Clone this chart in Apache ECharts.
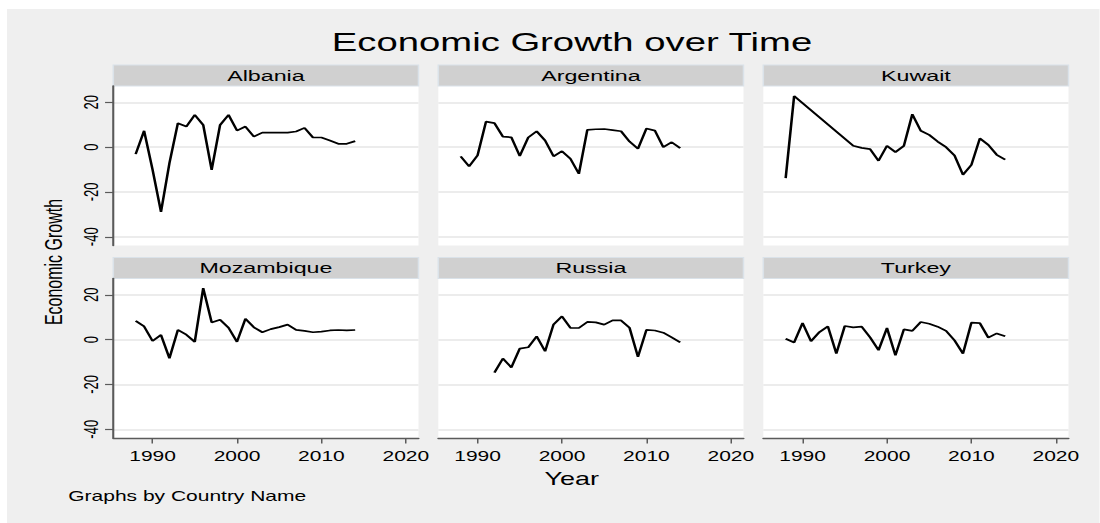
<!DOCTYPE html>
<html>
<head>
<meta charset="utf-8">
<script src="https://cdn.jsdelivr.net/npm/echarts@6/dist/echarts.min.js"></script>
<style>
  html, body { margin: 0; padding: 0; background: #ffffff; overflow: hidden; }
  /* the panel layout is laid out on a narrower canvas and widened 1.5x */
  #chart { width: 733.333px; height: 523px; transform: scaleX(1.5); transform-origin: 0 0; }
</style>
</head>
<body>
<div id="chart"></div>
<script>
// ---- data: annual GDP growth (%) by country ----
const years = [1988, 1989, 1990, 1991, 1992, 1993, 1994, 1995, 1996, 1997, 1998, 1999, 2000,
  2001, 2002, 2003, 2004, 2005, 2006, 2007, 2008, 2009, 2010, 2011, 2012, 2013, 2014];

const countries = ['Albania', 'Argentina', 'Kuwait', 'Mozambique', 'Russia', 'Turkey'];

const albania = [-3.1, 7.3, -10.0, -28.9, -7.1, 10.7, 9.2, 14.4, 9.9, -10.1, 9.9, 14.4, 7.4,
  9.2, 4.7, 6.5, 6.5, 6.5, 6.5, 7.0, 8.6, 4.3, 4.3, 3.0, 1.5, 1.5, 2.7];
const argentina = [-4.1, -8.6, -3.7, 11.4, 10.7, 4.7, 4.4, -3.9, 4.3, 7.1, 3.0, -4.1, -1.8,
  -5.2, -11.9, 7.7, 8.0, 8.1, 7.6, 7.1, 2.5, -0.7, 8.3, 7.4, 0.0, 2.2, -0.4];
const kuwait = [-13.8, 22.8, null, null, null, null, null, null, 0.6, -0.3, -0.9, -6.1, 0.6,
  -2.2, 0.6, 14.7, 7.3, 5.5, 2.5, 0.0, -3.7, -12.3, -7.9, 3.9, 1.0, -3.4, -5.6];
const mozambique = [8.4, 5.9, -0.6, 2.1, -8.3, 4.4, 2.2, -1.0, 23.0, 7.7, 8.9, 5.3, -1.0,
  9.3, 5.5, 3.3, 4.7, 5.6, 6.7, 4.4, 3.9, 3.3, 3.6, 4.1, 4.3, 4.1, 4.3];
const russia = [null, null, null, null, -14.7, -8.4, -12.4, -4.0, -3.4, 1.5, -5.2, 6.8, 10.4,
  5.3, 5.2, 7.9, 7.7, 6.7, 8.6, 8.6, 5.3, -7.7, 4.4, 4.1, 3.1, 1.0, -1.2];
const turkey = [0.4, -1.3, 7.4, -0.7, 3.4, 5.9, -6.2, 6.1, 5.5, 5.8, 1.0, -4.7, 5.2,
  -7.0, 4.6, 3.9, 7.9, 7.1, 5.8, 3.9, -0.3, -6.2, 7.6, 7.4, 0.9, 2.8, 1.5];

const growth = [albania, argentina, kuwait, mozambique, russia, turkey];

const xTicks = [1990, 2000, 2010, 2020];
const yTicks = [-40, -20, 0, 20];

// ---- layout ----
const SX = 1.5;                       // horizontal widening of the drawing
const X_MIN = 1985.35, X_MAX = 2021.5;
const Y_MIN = -43.9, Y_MAX = 27.3;
const colLeft = [113.3, 438.3, 763.3].map(v => v / SX);
const colWidth = 305.2 / SX;
const rowTop = [86, 278.5];
const rowHeight = 159.5;
const headerHeight = 21;
const FONT = '"Liberation Sans", Arial, Helvetica, sans-serif';
const AXIS_COLOR = '#5a5a5a';

const grids = [], xAxes = [], yAxes = [], series = [], graphics = [];

// graph region background
graphics.push({
  type: 'rect', z: -10, silent: true,
  shape: { x: 7 / SX, y: 9, width: 733.333 - 7 / SX, height: 514 },
  style: { fill: '#efefef' }
});

countries.forEach((name, i) => {
  const row = Math.floor(i / 3), col = i % 3;
  grids.push({
    left: colLeft[col], top: rowTop[row], width: colWidth, height: rowHeight,
    show: true, backgroundColor: '#ffffff', borderWidth: 0,
    containLabel: false, outerBoundsMode: 'none'
  });
  const bottomRow = row === 1, leftCol = col === 0;
  xAxes.push({
    type: 'value', gridIndex: i, min: X_MIN, max: X_MAX,
    axisLine: { show: bottomRow, onZero: false, lineStyle: { color: AXIS_COLOR, width: 1.4 } },
    axisTick: { show: bottomRow, customValues: xTicks, length: 5.5, lineStyle: { color: AXIS_COLOR, width: 1 } },
    axisLabel: { show: bottomRow, customValues: xTicks, margin: 11, fontSize: 14, color: '#000', fontFamily: FONT,
      formatter: v => String(v) },
    splitLine: { show: false }
  });
  yAxes.push({
    type: 'value', gridIndex: i, min: Y_MIN, max: Y_MAX,
    axisLine: { show: leftCol, onZero: false, lineStyle: { color: AXIS_COLOR, width: 1.4 } },
    axisTick: { show: leftCol, customValues: yTicks, length: 5.5, lineStyle: { color: AXIS_COLOR, width: 1.2 } },
    axisLabel: { show: leftCol, customValues: yTicks, rotate: 90, margin: 8, fontSize: 13, color: '#000', fontFamily: FONT,
      formatter: v => String(v) },
    splitLine: { show: true, lineStyle: { color: '#e6e6e6', width: 1.5 } }
  });
  const pts = [];
  years.forEach((yr, k) => { if (growth[i][k] !== null) pts.push([yr, growth[i][k]]); });
  series.push({
    type: 'line', name: name, xAxisIndex: i, yAxisIndex: i, data: pts,
    showSymbol: false, symbol: 'none', silent: true,
    lineStyle: { color: '#000000', width: 1.7 }
  });
  // panel header strip
  const hTop = rowTop[row] - headerHeight;
  graphics.push({
    type: 'rect', silent: true,
    shape: { x: colLeft[col], y: hTop, width: colWidth, height: headerHeight },
    style: { fill: '#d0d0d0', stroke: '#dae2e9', lineWidth: 1 }
  });
  graphics.push({
    type: 'text', silent: true, x: colLeft[col] + colWidth / 2, y: hTop + headerHeight / 2,
    style: { text: name, fontSize: 15.5, fontFamily: FONT, fill: '#000',
      align: 'center', textAlign: 'center', verticalAlign: 'middle', textVerticalAlign: 'middle' }
  });
});

// titles and notes
graphics.push({
  type: 'text', silent: true, x: 572 / SX, y: 42.2,
  style: { text: 'Economic Growth over Time', fontSize: 25.5, fontFamily: FONT, fill: '#000',
    align: 'center', textAlign: 'center', verticalAlign: 'middle', textVerticalAlign: 'middle' }
});
graphics.push({
  type: 'text', silent: true, x: 571.7 / SX, y: 478.3,
  style: { text: 'Year', fontSize: 18, fontFamily: FONT, fill: '#000',
    align: 'center', textAlign: 'center', verticalAlign: 'middle', textVerticalAlign: 'middle' }
});
graphics.push({
  type: 'text', silent: true, x: 68.3 / SX, y: 496.7,
  style: { text: 'Graphs by Country Name', fontSize: 14, fontFamily: FONT, fill: '#000',
    align: 'left', textAlign: 'left', verticalAlign: 'middle', textVerticalAlign: 'middle' }
});
graphics.push({
  type: 'text', silent: true, x: 54 / SX, y: 262, rotation: Math.PI / 2,
  style: { text: 'Economic Growth', fontSize: 16, fontFamily: FONT, fill: '#000',
    align: 'center', textAlign: 'center', verticalAlign: 'middle', textVerticalAlign: 'middle' }
});

const chart = echarts.init(document.getElementById('chart'), null, { renderer: 'svg' });
chart.setOption({
  animation: false,
  backgroundColor: 'transparent',
  grid: grids,
  xAxis: xAxes,
  yAxis: yAxes,
  series: series,
  graphic: { elements: graphics }
});
</script>
</body>
</html>
